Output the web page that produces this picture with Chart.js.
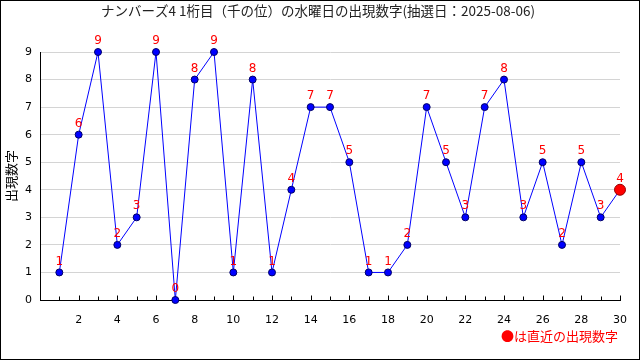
<!DOCTYPE html>
<html>
<head>
<meta charset="utf-8">
<script src="https://cdn.jsdelivr.net/npm/chart.js@4/dist/chart.umd.min.js"></script>
<style>
  html, body { margin: 0; padding: 0; background: #fff; }
  #wrap { width: 640px; height: 360px; position: relative; }
</style>
</head>
<body>
<div id="wrap"><canvas id="myChart" width="640" height="360"></canvas></div>
<script>
var draws = [1, 2, 3, 4, 5, 6, 7, 8, 9, 10, 11, 12, 13, 14, 15, 16, 17, 18, 19, 20, 21, 22, 23, 24, 25, 26, 27, 28, 29, 30];
var digits = [1, 6, 9, 2, 3, 9, 0, 8, 9, 1, 8, 1, 4, 7, 7, 5, 1, 1, 2, 7, 5, 3, 7, 8, 3, 5, 2, 5, 3, 4];
var titleText = 'ナンバーズ4 1桁目（千の位）の水曜日の出現数字(抽選日：2025-08-06)';
var yTitle = '出現数字';
var noteText = '●は直近の出現数字';

var jpFont = '"Noto Sans CJK JP", "DejaVu Sans", sans-serif';

var lastIdx = digits.length - 1;
var pointColors = digits.map(function(d, i) { return i === lastIdx ? '#ff0000' : '#0000ff'; });
var pointBorders = digits.map(function(d, i) { return i === lastIdx ? '#990000' : '#000066'; });
var pointSizes = digits.map(function(d, i) { return i === lastIdx ? 5.5 : 3.5; });

// red digits above each point, inward x ticks, frame, note
var extras = {
  id: 'extras',
  beforeDatasetsDraw: function(chart) {
    var ctx = chart.ctx;
    var xs = chart.scales.x;
    var base = Math.round(chart.chartArea.bottom) + 0.5;
    ctx.save();
    ctx.strokeStyle = '#000';
    ctx.lineWidth = 1;
    draws.forEach(function(v) {
      var px = Math.round(xs.getPixelForValue(v)) + 0.5;
      var len = v % 2 === 0 ? 5 : 4;
      ctx.beginPath();
      ctx.moveTo(px, base);
      ctx.lineTo(px, base - len);
      ctx.stroke();
    });
    ctx.restore();
  },
  afterDatasetsDraw: function(chart) {
    var ctx = chart.ctx;
    var meta = chart.getDatasetMeta(0);
    ctx.save();
    ctx.fillStyle = '#ff0000';
    ctx.font = '12px "DejaVu Sans", sans-serif';
    ctx.textAlign = 'center';
    ctx.textBaseline = 'middle';
    meta.data.forEach(function(pt, i) {
      ctx.fillText(String(digits[i]), pt.x, pt.y - 11);
    });
    ctx.restore();
  },
  afterDraw: function(chart) {
    var ctx = chart.ctx;
    ctx.save();
    ctx.strokeStyle = '#000';
    ctx.lineWidth = 1;
    ctx.strokeRect(0.5, 0.5, 639, 359);
    ctx.fillStyle = '#ff0000';
    ctx.font = '13px ' + jpFont;
    ctx.textAlign = 'right';
    ctx.textBaseline = 'middle';
    ctx.fillText(noteText, 618, 336);
    ctx.restore();
  }
};

new Chart(document.getElementById('myChart').getContext('2d'), {
  type: 'line',
  data: {
    datasets: [{
      data: draws.map(function(x, i) { return { x: x, y: digits[i] }; }),
      borderColor: '#0000ff',
      borderWidth: 1,
      backgroundColor: '#0000ff',
      pointBackgroundColor: pointColors,
      pointBorderColor: pointBorders,
      pointBorderWidth: 1,
      pointRadius: pointSizes,
      tension: 0,
      clip: false
    }]
  },
  options: {
    responsive: false,
    animation: false,
    events: [],
    layout: { padding: { left: 0, right: 4, top: 0, bottom: 0 } },
    plugins: {
      legend: { display: false },
      tooltip: { enabled: false },
      title: {
        display: true,
        text: titleText,
        color: '#222',
        font: { family: jpFont, size: 13.5, weight: 'normal', lineHeight: 1.2 },
        padding: { top: 3, bottom: 32.8 }
      }
    },
    scales: {
      x: {
        type: 'linear',
        min: 0,
        max: 30,
        afterFit: function(s) { s.height = 60; },
        grid: { display: false },
        border: { color: '#000', width: 1 },
        ticks: {
          stepSize: 1,
          autoSkip: false,
          maxRotation: 0,
          padding: 6,
          color: '#000',
          font: { family: '"DejaVu Sans", sans-serif', size: 11 },
          callback: function(v) { return (v > 0 && v % 2 === 0) ? v : ''; }
        }
      },
      y: {
        min: 0,
        max: 9,
        afterFit: function(s) { s.width = 40; },
        grid: { color: '#d4d4d4', drawTicks: false },
        border: { color: '#000', width: 1 },
        ticks: {
          stepSize: 1,
          padding: 8,
          color: '#000',
          font: { family: '"DejaVu Sans", sans-serif', size: 11 }
        },
        title: {
          display: true,
          text: yTitle,
          color: '#000',
          font: { family: jpFont, size: 13 },
          padding: { top: 3, bottom: 0 }
        }
      },
      // empty right-hand spacer so the plot ends at x=620
      yRight: {
        position: 'right',
        min: 0,
        max: 9,
        afterFit: function(s) { s.width = 16; },
        grid: { display: false },
        border: { display: false },
        ticks: { display: false }
      }
    }
  },
  plugins: [extras]
});
</script>
</body>
</html>
